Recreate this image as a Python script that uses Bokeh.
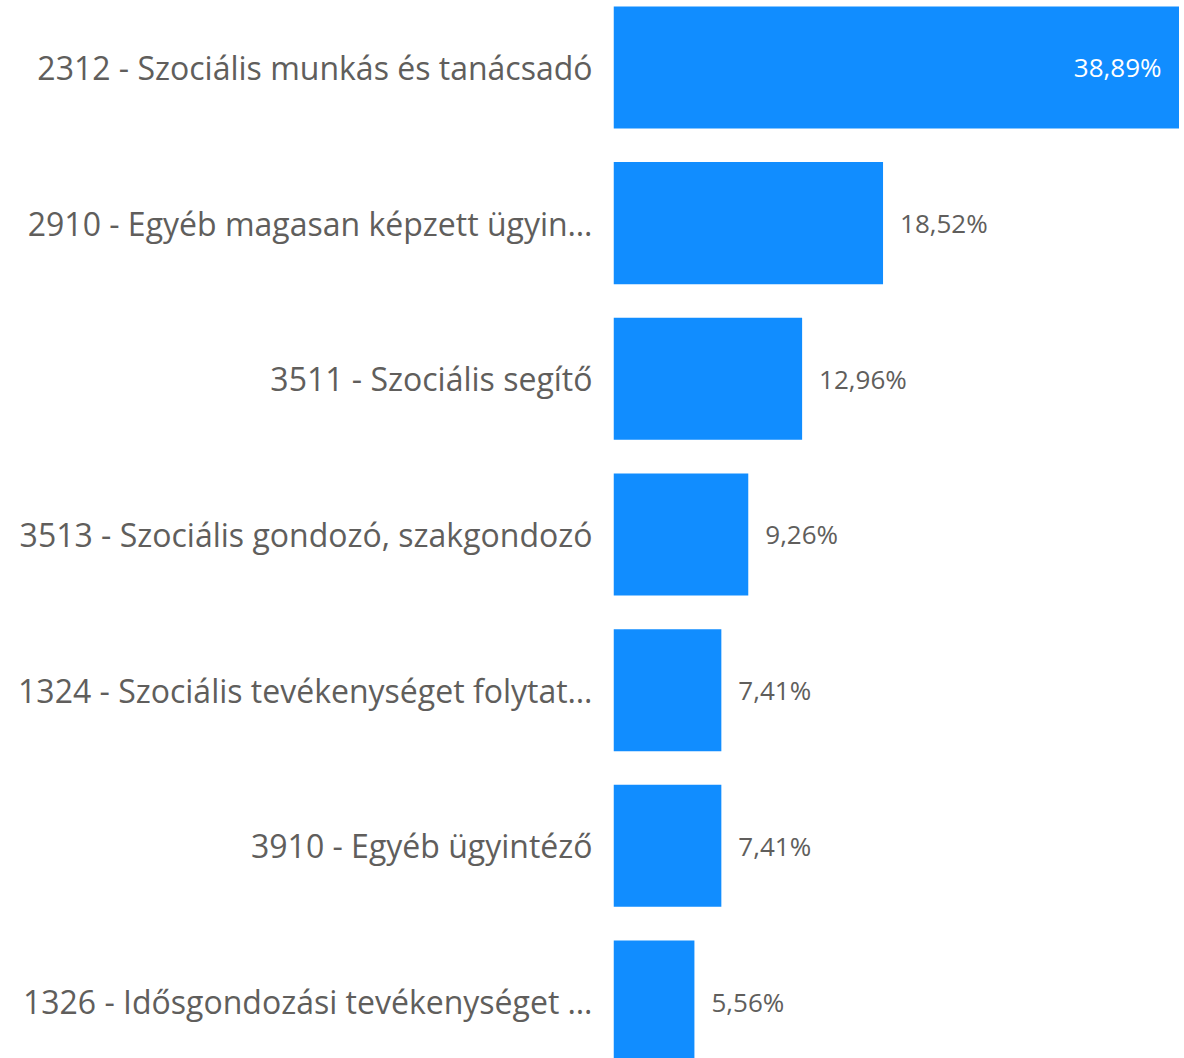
from bokeh.plotting import figure
from bokeh.models import Range1d, FixedTicker, ColumnDataSource
from bokeh.embed import file_html
from bokeh.resources import INLINE
from bokeh.core.properties import value

categories = [
    "2312 - Szociális munkás és tanácsadó",
    "2910 - Egyéb magasan képzett ügyin…",
    "3511 - Szociális segítő",
    "3513 - Szociális gondozó, szakgondozó",
    "1324 - Szociális tevékenységet folytat…",
    "3910 - Egyéb ügyintéző",
    "1326 - Idősgondozási tevékenységet …",
]
values = [38.89, 18.52, 12.96, 9.26, 7.41, 7.41, 5.56]

BLUE = "#118DFF"
GREY = "#605E5C"
FONT = "Open Sans"

n = len(categories)
ypos = [n - 1 - i for i in range(n)]
labels = [f"{v:.2f}".replace(".", ",") + "%" for v in values]
vmax = max(values)
inside = [v == vmax for v in values]

src = ColumnDataSource(dict(y=ypos, v=values, lab=labels))
src_in = ColumnDataSource(dict(
    y=[y for y, i in zip(ypos, inside) if i],
    v=[v for v, i in zip(values, inside) if i],
    lab=[l for l, i in zip(labels, inside) if i]))
src_out = ColumnDataSource(dict(
    y=[y for y, i in zip(ypos, inside) if not i],
    v=[v for v, i in zip(values, inside) if not i],
    lab=[l for l, i in zip(labels, inside) if not i]))

p = figure(width=1179, height=1058, output_backend="svg", toolbar_location=None,
           x_range=Range1d(0, 38.89), y_range=Range1d(-0.366, 6.430),
           min_border_left=613, min_border_right=0, min_border_top=0, min_border_bottom=0)

p.hbar(y="y", right="v", left=0, height=0.784, source=src, color=BLUE, line_color=None)

p.text(x="v", y="y", text="lab", source=src_in, x_offset=-18, text_align="right",
       text_baseline="middle", text_color="white", text_font=value(FONT), text_font_size="26px")
p.text(x="v", y="y", text="lab", source=src_out, x_offset=17, text_align="left",
       text_baseline="middle", text_color=GREY, text_font=value(FONT), text_font_size="26px")

p.xaxis.visible = False
p.yaxis.ticker = FixedTicker(ticks=ypos)
p.yaxis.major_label_overrides = {y: c for y, c in zip(ypos, categories)}
p.yaxis.axis_line_color = None
p.yaxis.major_tick_line_color = None
p.yaxis.minor_tick_line_color = None
p.yaxis.major_tick_in = 0
p.yaxis.major_tick_out = 0
p.yaxis.major_label_standoff = 21
p.yaxis.major_label_text_font = FONT
p.yaxis.major_label_text_font_size = "32px"
p.yaxis.major_label_text_color = GREY
p.grid.visible = False
p.outline_line_color = None

open("out.html", "w").write(file_html(p, INLINE))
